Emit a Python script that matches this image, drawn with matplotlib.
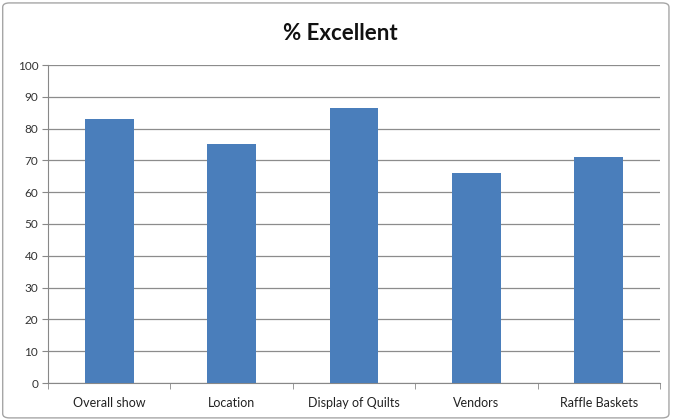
import matplotlib
matplotlib.use("Agg")
import matplotlib.pyplot as plt
from matplotlib.patches import FancyBboxPatch
import numpy as np

categories = ["Overall show", "Location", "Display of Quilts", "Vendors", "Raffle Baskets"]
values = [82.9, 75.3, 86.6, 66.0, 71.2]
yticks = [0, 10, 20, 30, 40, 50, 60, 70, 80, 90, 100]

plt.rcParams['font.family'] = ['Lato', 'DejaVu Sans']

fig = plt.figure(figsize=(6.73, 4.20), dpi=100)
fig.patch.set_facecolor("white")
border = FancyBboxPatch((0.004, 0.005), 0.99, 0.988, boxstyle="round,pad=0,rounding_size=0.01",
                        transform=fig.transFigure, facecolor="none", edgecolor="#a6a6a6", linewidth=1.0)
fig.patches.append(border)

ax = fig.add_axes([48/673, 1 - 383/420, (660 - 48)/673, (383 - 65)/420])
x = np.arange(len(categories))
ax.bar(x, values, width=0.4, color="#4a7ebb", zorder=3)
ax.set_xlim(-0.5, len(categories) - 0.5)
ax.set_ylim(0, 100)
ax.set_yticks(yticks)
ax.set_yticklabels([str(t) for t in yticks], fontsize=8.5, color="#333333")
ax.set_xticks(x)
ax.set_xticklabels(categories, fontsize=9, color="#222222")
ax.tick_params(axis='x', length=0, pad=10)
ax.tick_params(axis='y', length=4, color="#888888", pad=3)
ax.set_xticks(np.arange(-0.5, len(categories)), minor=True)
ax.tick_params(axis='x', which='minor', length=4, color="#888888", direction='out')
ax.yaxis.grid(True, color="#8c8c8c", linewidth=0.9, zorder=0)
for s in ["top", "right"]:
    ax.spines[s].set_visible(False)
ax.spines["left"].set_color("#888888")
ax.spines["bottom"].set_color("#888888")

fig.text(340/673, 1 - 33/420, "% Excellent", ha="center", va="center", fontsize=16, fontweight="bold", color="#111111")

fig.savefig("out.png", dpi=100)
